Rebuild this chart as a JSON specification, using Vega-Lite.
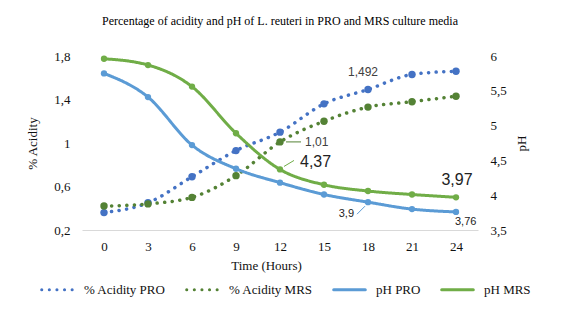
{
  "$schema": "https://vega.github.io/schema/vega-lite/v6.json",
  "width": 396,
  "height": 174,
  "autosize": {"type": "none"},
  "padding": {"left": 82, "top": 56, "right": 83, "bottom": 90},
  "background": "white",
  "title": {
    "text": "Percentage of acidity and pH of L. reuteri in PRO and MRS culture media",
    "font": "Liberation Serif",
    "fontSize": 12,
    "fontWeight": "normal",
    "color": "#000000",
    "offset": 22
  },
  "config": {
    "locale": {"number": {"decimal": ",", "thousands": ".", "grouping": [3], "currency": ["", " €"]}},
    "view": {"stroke": null},
    "axis": {
      "labelFont": "Liberation Serif",
      "labelFontSize": 13,
      "labelColor": "#111111",
      "titleFont": "Liberation Serif",
      "titleFontSize": 13,
      "titleFontWeight": "normal",
      "titleColor": "#111111",
      "grid": false,
      "ticks": false
    },
    "legend": {
      "labelFont": "Liberation Serif",
      "labelFontSize": 13,
      "labelColor": "#111111",
      "title": null,
      "orient": "none",
      "direction": "horizontal",
      "legendX": -42,
      "legendY": 216,
      "symbolType": "stroke",
      "symbolSize": 1000,
      "symbolStrokeWidth": 3,
      "labelOffset": 9,
      "columnPadding": 14,
      "columns": 4
    }
  },
  "data": {
    "values": [
      {"time": 0, "series": "% Acidity PRO", "kind": "acidity", "value": 0.36},
      {"time": 3, "series": "% Acidity PRO", "kind": "acidity", "value": 0.45},
      {"time": 6, "series": "% Acidity PRO", "kind": "acidity", "value": 0.69},
      {"time": 9, "series": "% Acidity PRO", "kind": "acidity", "value": 0.93},
      {"time": 12, "series": "% Acidity PRO", "kind": "acidity", "value": 1.10},
      {"time": 15, "series": "% Acidity PRO", "kind": "acidity", "value": 1.36},
      {"time": 18, "series": "% Acidity PRO", "kind": "acidity", "value": 1.492},
      {"time": 21, "series": "% Acidity PRO", "kind": "acidity", "value": 1.63},
      {"time": 24, "series": "% Acidity PRO", "kind": "acidity", "value": 1.66},
      {"time": 0, "series": "% Acidity MRS", "kind": "acidity", "value": 0.42},
      {"time": 3, "series": "% Acidity MRS", "kind": "acidity", "value": 0.44},
      {"time": 6, "series": "% Acidity MRS", "kind": "acidity", "value": 0.50},
      {"time": 9, "series": "% Acidity MRS", "kind": "acidity", "value": 0.70},
      {"time": 12, "series": "% Acidity MRS", "kind": "acidity", "value": 1.01},
      {"time": 15, "series": "% Acidity MRS", "kind": "acidity", "value": 1.20},
      {"time": 18, "series": "% Acidity MRS", "kind": "acidity", "value": 1.33},
      {"time": 21, "series": "% Acidity MRS", "kind": "acidity", "value": 1.38},
      {"time": 24, "series": "% Acidity MRS", "kind": "acidity", "value": 1.43},
      {"time": 0, "series": "pH PRO", "kind": "pH", "value": 5.75},
      {"time": 3, "series": "pH PRO", "kind": "pH", "value": 5.41},
      {"time": 6, "series": "pH PRO", "kind": "pH", "value": 4.72},
      {"time": 9, "series": "pH PRO", "kind": "pH", "value": 4.38},
      {"time": 12, "series": "pH PRO", "kind": "pH", "value": 4.18},
      {"time": 15, "series": "pH PRO", "kind": "pH", "value": 4.01},
      {"time": 18, "series": "pH PRO", "kind": "pH", "value": 3.9},
      {"time": 21, "series": "pH PRO", "kind": "pH", "value": 3.80},
      {"time": 24, "series": "pH PRO", "kind": "pH", "value": 3.76},
      {"time": 0, "series": "pH MRS", "kind": "pH", "value": 5.96},
      {"time": 3, "series": "pH MRS", "kind": "pH", "value": 5.87},
      {"time": 6, "series": "pH MRS", "kind": "pH", "value": 5.56},
      {"time": 9, "series": "pH MRS", "kind": "pH", "value": 4.89},
      {"time": 12, "series": "pH MRS", "kind": "pH", "value": 4.37},
      {"time": 15, "series": "pH MRS", "kind": "pH", "value": 4.15},
      {"time": 18, "series": "pH MRS", "kind": "pH", "value": 4.06},
      {"time": 21, "series": "pH MRS", "kind": "pH", "value": 4.01},
      {"time": 24, "series": "pH MRS", "kind": "pH", "value": 3.97}
    ]
  },
  "encoding": {
    "x": {
      "field": "time",
      "type": "ordinal",
      "scale": {"type": "point", "padding": 0.5, "domain": [0, 3, 6, 9, 12, 15, 18, 21, 24]},
      "axis": {
        "title": "Time (Hours)",
        "labelAngle": 0,
        "domainColor": "#d9d9d9",
        "domainWidth": 1,
        "labelPadding": 10,
        "titlePadding": 6,
        "titleX": 184
      }
    },
    "color": {
      "field": "series",
      "type": "nominal",
      "scale": {
        "domain": ["% Acidity PRO", "% Acidity MRS", "pH PRO", "pH MRS"],
        "range": ["#4472C4", "#548235", "#5B9BD5", "#70AD47"]
      },
      "legend": {"encode": {"symbols": {"update": {"strokeCap": {"value": "round"}}}}}
    }
  },
  "layer": [
    {
      "transform": [{"filter": "datum.kind === 'acidity'"}],
      "encoding": {
        "y": {
          "field": "value",
          "type": "quantitative",
          "scale": {"domain": [0.2, 1.8], "nice": false, "zero": false},
          "axis": {
            "title": "% Acidity",
            "orient": "left",
            "values": [0.2, 0.6, 1, 1.4, 1.8],
            "format": ".1~f",
            "domain": false,
            "labelPadding": 12,
            "titlePadding": 14
          }
        }
      },
      "layer": [
        {
          "mark": {"type": "line", "interpolate": "monotone", "strokeWidth": 3.5, "strokeCap": "round"},
          "encoding": {
            "strokeDash": {
              "field": "series",
              "type": "nominal",
              "scale": {
                "domain": ["% Acidity PRO", "% Acidity MRS", "pH PRO", "pH MRS"],
                "range": [[0.1, 7.5], [0.1, 7.5], [1, 0], [1, 0]]
              },
              "legend": {"encode": {"symbols": {"update": {"strokeCap": {"value": "round"}}}}}
            }
          }
        },
        {
          "mark": {"type": "point", "filled": true, "opacity": 1, "size": 55}
        },
        {
          "transform": [{"filter": "datum.series === '% Acidity MRS' && datum.time === 12"}],
          "mark": {"type": "rule", "strokeWidth": 1, "xOffset": 6, "x2Offset": 21},
          "encoding": {"x2": {"field": "time"}, "y2": {"field": "value"}, "color": {"value": "#548235"}}
        },
        {
          "transform": [{"filter": "datum.series === '% Acidity PRO' && datum.time === 18"}],
          "mark": {"type": "text", "font": "Liberation Sans", "fontSize": 12, "align": "center", "dx": -5, "dy": -17},
          "encoding": {"text": {"field": "value", "type": "quantitative", "format": ".3~f"}, "color": {"value": "#404040"}}
        },
        {
          "transform": [{"filter": "datum.series === '% Acidity MRS' && datum.time === 12"}],
          "mark": {"type": "text", "font": "Liberation Sans", "fontSize": 12, "align": "left", "dx": 25, "dy": 0},
          "encoding": {"text": {"field": "value", "type": "quantitative", "format": ".3~f"}, "color": {"value": "#404040"}}
        }
      ]
    },
    {
      "transform": [{"filter": "datum.kind === 'pH'"}],
      "encoding": {
        "y": {
          "field": "value",
          "type": "quantitative",
          "scale": {"domain": [3.5, 6], "nice": false, "zero": false},
          "axis": {
            "title": "pH",
            "orient": "right",
            "titleAngle": 270,
            "values": [3.5, 4, 4.5, 5, 5.5, 6],
            "format": ".1~f",
            "domain": false,
            "labelPadding": 12,
            "titlePadding": 22
          }
        }
      },
      "layer": [
        {
          "mark": {"type": "line", "interpolate": "monotone", "strokeWidth": 3, "strokeCap": "round"},
          "encoding": {
            "strokeDash": {
              "field": "series",
              "type": "nominal",
              "scale": {
                "domain": ["% Acidity PRO", "% Acidity MRS", "pH PRO", "pH MRS"],
                "range": [[0.1, 7.5], [0.1, 7.5], [1, 0], [1, 0]]
              },
              "legend": {"encode": {"symbols": {"update": {"strokeCap": {"value": "round"}}}}}
            }
          }
        },
        {
          "mark": {"type": "point", "filled": true, "opacity": 1, "size": 40}
        },
        {
          "transform": [{"filter": "datum.series === 'pH MRS' && datum.time === 12"}],
          "mark": {"type": "rule", "strokeWidth": 1, "xOffset": 4, "yOffset": -3, "x2Offset": 14, "y2Offset": -9},
          "encoding": {"x2": {"field": "time"}, "y2": {"field": "value"}, "color": {"value": "#70AD47"}}
        },
        {
          "transform": [{"filter": "datum.series === 'pH PRO' && datum.time === 18"}],
          "mark": {"type": "rule", "strokeWidth": 1, "xOffset": -11, "yOffset": 12, "x2Offset": -3, "y2Offset": 4},
          "encoding": {"x2": {"field": "time"}, "y2": {"field": "value"}, "color": {"value": "#5B9BD5"}}
        },
        {
          "transform": [{"filter": "datum.series === 'pH MRS' && datum.time === 12"}],
          "mark": {"type": "text", "font": "Liberation Sans", "fontSize": 16, "align": "left", "dx": 20, "dy": -7},
          "encoding": {"text": {"field": "value", "type": "quantitative", "format": ".3~f"}, "color": {"value": "#222222"}}
        },
        {
          "transform": [{"filter": "datum.series === 'pH MRS' && datum.time === 24"}],
          "mark": {"type": "text", "font": "Liberation Sans", "fontSize": 16, "align": "center", "dx": 1, "dy": -17},
          "encoding": {"text": {"field": "value", "type": "quantitative", "format": ".3~f"}, "color": {"value": "#222222"}}
        },
        {
          "transform": [{"filter": "datum.series === 'pH PRO' && datum.time === 18"}],
          "mark": {"type": "text", "font": "Liberation Sans", "fontSize": 11, "align": "right", "dx": -14, "dy": 12},
          "encoding": {"text": {"field": "value", "type": "quantitative", "format": ".3~f"}, "color": {"value": "#222222"}}
        },
        {
          "transform": [{"filter": "datum.series === 'pH PRO' && datum.time === 24"}],
          "mark": {"type": "text", "font": "Liberation Sans", "fontSize": 11, "align": "left", "dx": -1, "dy": 10},
          "encoding": {"text": {"field": "value", "type": "quantitative", "format": ".3~f"}, "color": {"value": "#222222"}}
        }
      ]
    }
  ],
  "resolve": {"scale": {"y": "independent"}, "axis": {"y": "independent"}}
}
